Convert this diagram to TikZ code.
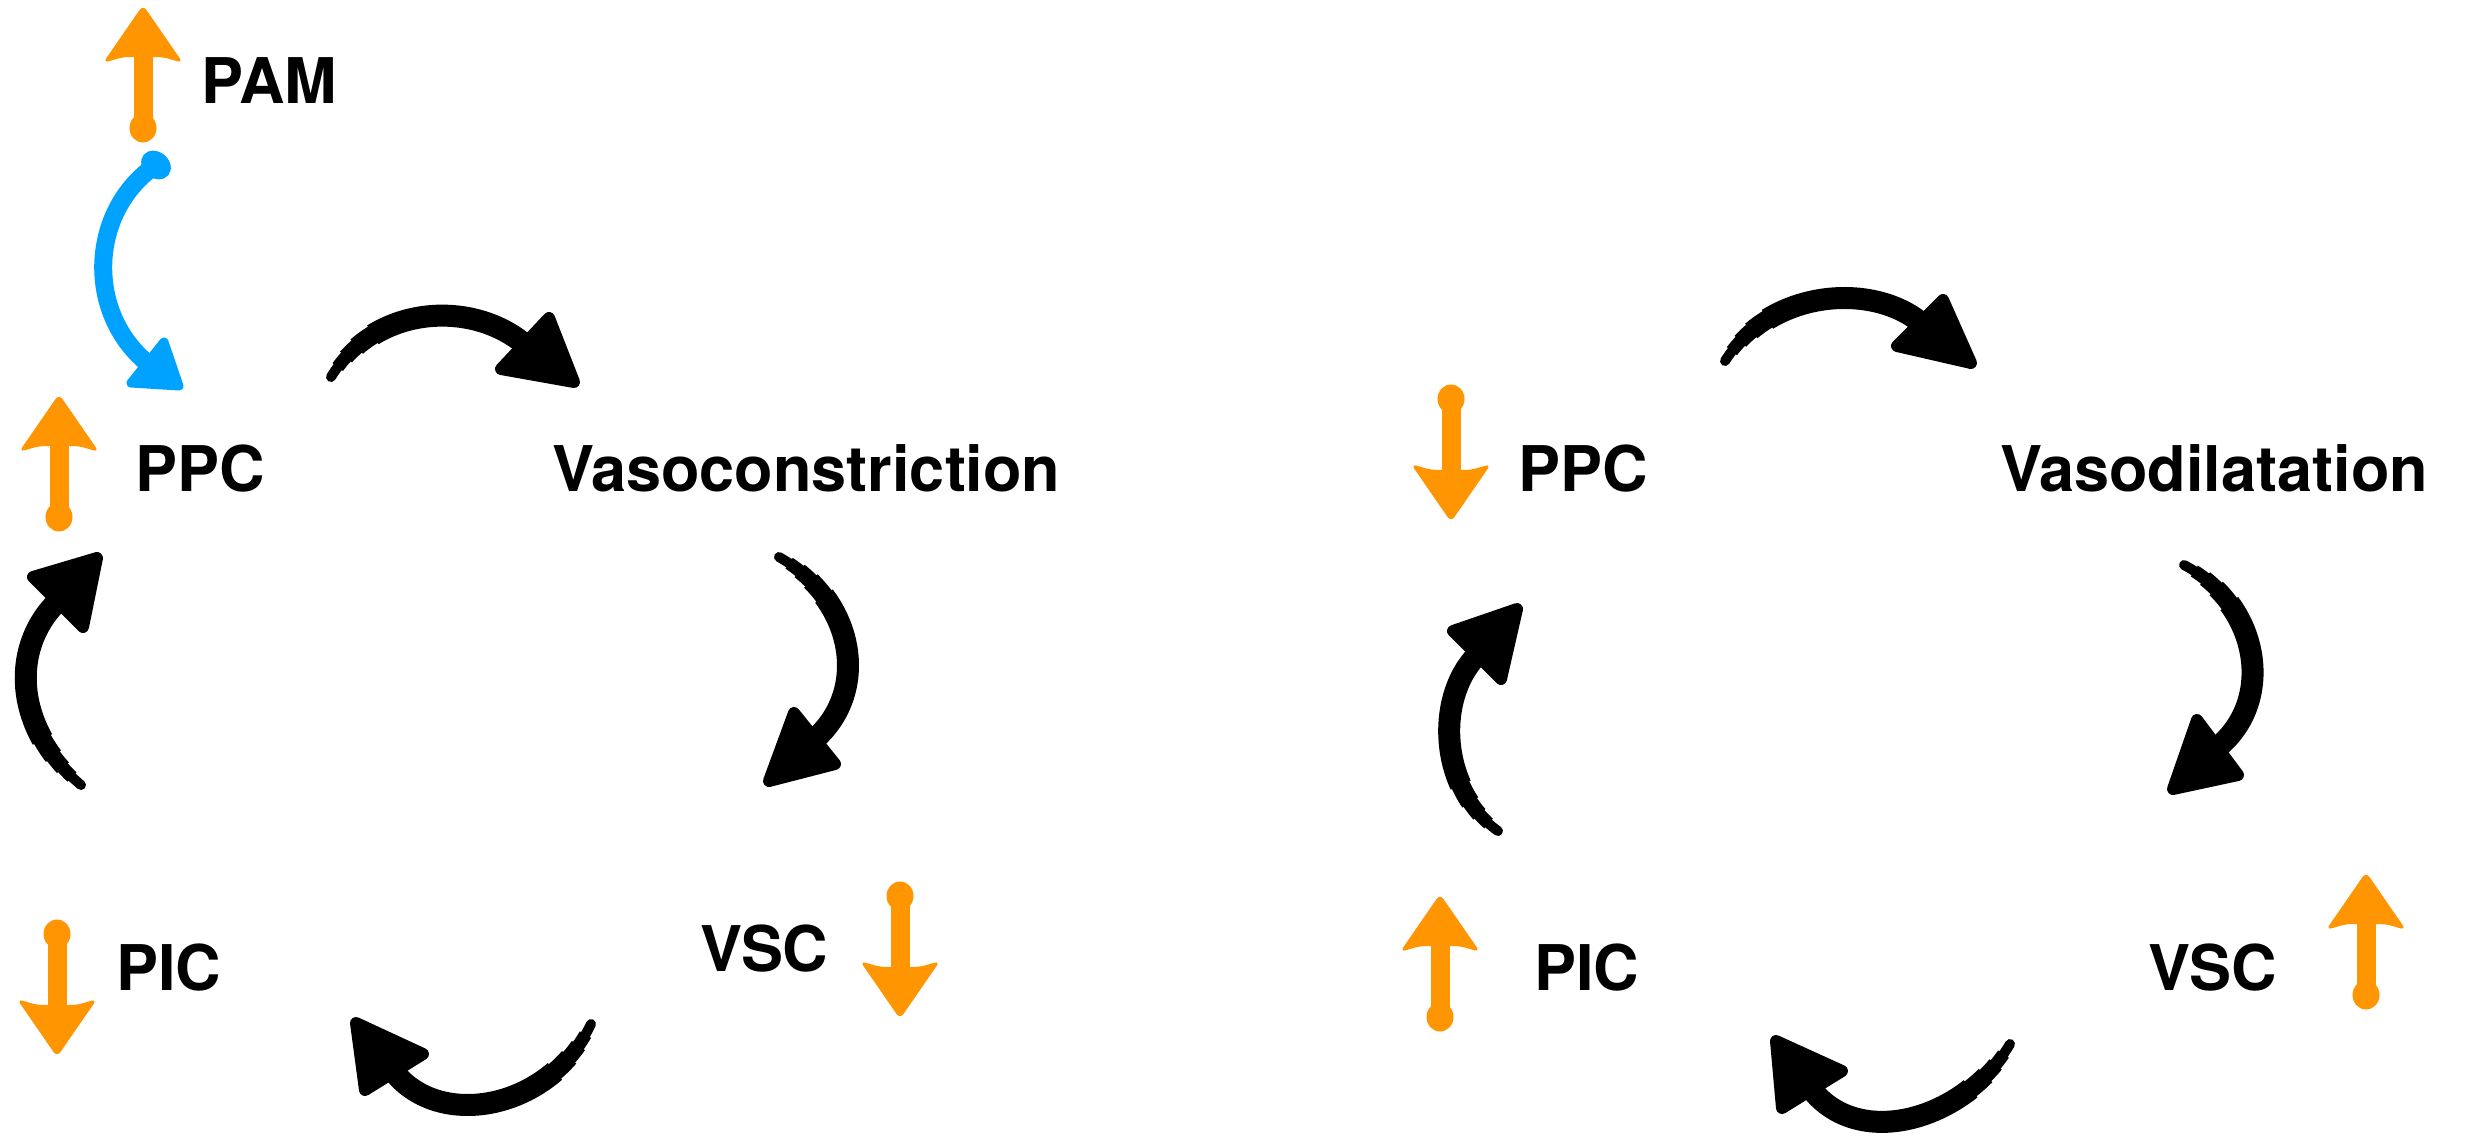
\documentclass[tikz,border=0pt]{standalone}
\usepackage{fontspec}
\setmainfont{TeX Gyre Heros}
\definecolor{orangec}{HTML}{FF9500}
\definecolor{bluec}{HTML}{00A2FF}
\tikzset{
  lbl/.style={anchor=base west, inner sep=0pt, font=\fontsize{63}{70}\selectfont\bfseries},
  brushA/.style={draw=black, line width=10pt, line cap=round},
  brushL/.style={draw=black, line width=#1, line cap=butt},
  brushhead/.style={fill=black, draw=black, line width=12pt, line join=round},
  orangeup/.pic={
    \fill[orangec, rounded corners=6pt] (0,-71) -- (40,-13) .. controls (20,-19) .. (0,-19) .. controls (-20,-19) .. (-40,-13) -- cycle;
    \fill[orangec] (-9.5,-22) rectangle (9.5,50);
    \fill[orangec] (0,52) ellipse (13.5 and 14.5);
  }
}
\newcommand{\brushcurve}[4]{%
  \draw[brushA] (#1) .. controls (#2) and (#3) .. (#4);
  \draw[brushL=13pt, dash pattern=on 0pt off 12pt on 3000pt] (#1) .. controls (#2) and (#3) .. (#4);
  \draw[brushL=16pt, dash pattern=on 0pt off 25pt on 3000pt] (#1) .. controls (#2) and (#3) .. (#4);
  \draw[brushL=19pt, dash pattern=on 0pt off 40pt on 3000pt] (#1) .. controls (#2) and (#3) .. (#4);
  \draw[brushL=22pt, dash pattern=on 0pt off 60pt on 3000pt] (#1) .. controls (#2) and (#3) .. (#4);}
\begin{document}
\begin{tikzpicture}[x=1pt,y=-1pt]
\useasboundingbox (0,0) rectangle (2468,1135);
\fill[white] (0,0) rectangle (2468,1135);

% labels
\node[lbl] (pam) at (201,103) {PAM};
\node[lbl] (ppcL) at (135,491) {PPC};
\node[lbl] (vasoc) at (552,491) {Vasoconstriction};
\node[lbl] (vscL) at (700,971) {VSC};
\node[lbl] (picL) at (116,990) {PIC};
\node[lbl] (ppcR) at (1518,491) {PPC};
\node[lbl] (vasod) at (2000,491) {Vasodilatation};
\node[lbl] (vscR) at (2148,990) {VSC};
\node[lbl] (picR) at (1534,990) {PIC};

% orange arrows
\pic at (143,76) {orangeup};
\pic at (59,465) {orangeup};
\pic[rotate=180] at (57,986) {orangeup};
\pic[rotate=180] at (900,948) {orangeup};
\pic[rotate=180] at (1451,451) {orangeup};
\pic at (2366,943) {orangeup};
\pic at (1440,965) {orangeup};

% blue arrow PAM -> PPC
\coordinate (bs) at (156,165);
\coordinate (be) at (146,362);
\fill[bluec, rotate around={-40:(bs)}] (bs) ellipse (16 and 13);
\draw[bluec, line width=18pt, line cap=round] (bs) .. controls (90,210) and (85,310) .. (be);
\filldraw[bluec, line width=9pt, line join=round] (131,383) -- (164,342) -- (179,386) -- cycle;

% left cycle
\coordinate (a1s) at (331,377); \coordinate (a1e) at (523,343);
\brushcurve{a1s}{375,305}{470,300}{a1e}
\filldraw[brushhead] (501,369) -- (549,318) -- (574,382) -- cycle;

\coordinate (a2s) at (779,557); \coordinate (a2e) at (815,739);
\brushcurve{a2s}{855,600}{870,690}{a2e}
\filldraw[brushhead] (794,713) -- (835,764) -- (769,781) -- cycle;

\coordinate (a3s) at (591,1024); \coordinate (a3e) at (394,1072);
\brushcurve{a3s}{550,1110}{440,1130}{a3e}
\filldraw[brushhead] (423,1054) -- (365,1090) -- (356,1023) -- cycle;

\coordinate (a4s) at (81,785); \coordinate (a4e) at (56,603);
\brushcurve{a4s}{15,730}{10,650}{a4e}
\filldraw[brushhead] (33,577) -- (83,627) -- (97,558) -- cycle;

% right cycle
\coordinate (b1s) at (1725,361); \coordinate (b1e) at (1920,322);
\brushcurve{b1s}{1770,290}{1870,282}{b1e}
\filldraw[brushhead] (1897,346) -- (1943,300) -- (1971,363) -- cycle;

\coordinate (b2s) at (2184,565); \coordinate (b2e) at (2218,747);
\brushcurve{b2s}{2260,605}{2275,700}{b2e}
\filldraw[brushhead] (2197,720) -- (2238,775) -- (2173,789) -- cycle;

\coordinate (b3s) at (2010,1044); \coordinate (b3e) at (1812,1090);
\brushcurve{b3s}{1965,1120}{1860,1150}{b3e}
\filldraw[brushhead] (1842,1071) -- (1782,1108) -- (1776,1041) -- cycle;

\coordinate (b4s) at (1498,831); \coordinate (b4e) at (1476,656);
\brushcurve{b4s}{1440,790}{1435,700}{b4e}
\filldraw[brushhead] (1453,631) -- (1501,679) -- (1517,609) -- cycle;
\end{tikzpicture}
\end{document}
